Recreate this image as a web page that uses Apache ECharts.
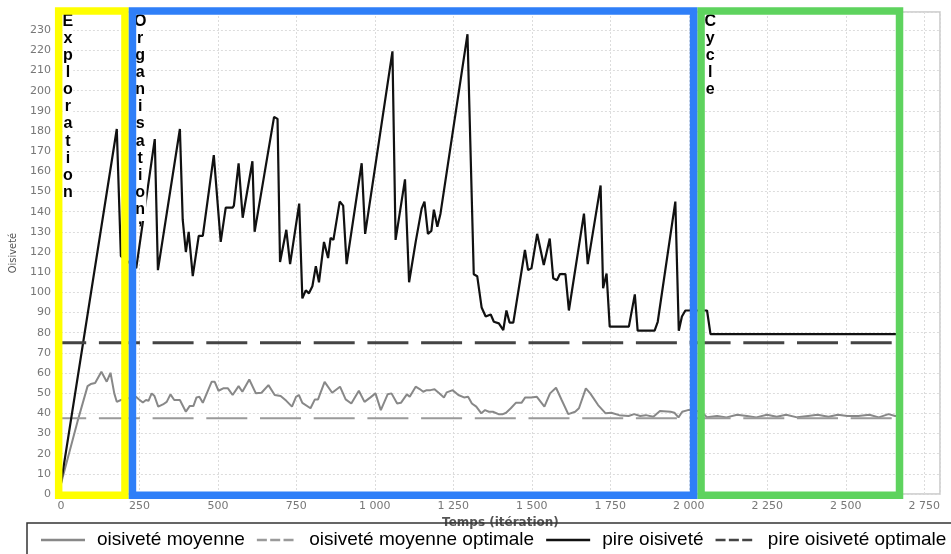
<!DOCTYPE html>
<html>
<head>
<meta charset="utf-8">
<script src="https://cdn.jsdelivr.net/npm/echarts@6/dist/echarts.min.js"></script>
<style>html,body{margin:0;padding:0;background:#fff}#c{width:951px;height:554px}</style>
</head>
<body>
<div id="c"></div>
<script>
// ---- data ----
const seriesNames = ['oisiveté moyenne', 'oisiveté moyenne optimale', 'pire oisiveté', 'pire oisiveté optimale'];
const xTicks = [0, 250, 500, 750, 1000, 1250, 1500, 1750, 2000, 2250, 2500, 2750];

const worstIter = [0,178,191,240,299,309,379,388,398,407,420,439,452,487,509,525,547,551,566,579,610,617,679,690,698,718,730,759,769,780,790,801,812,822,838,851,859,868,888,899,910,958,969,1056,1066,1096,1109,1130,1149,1158,1169,1180,1188,1199,1209,1295,1315,1326,1340,1353,1369,1379,1395,1409,1419,1429,1441,1478,1488,1499,1517,1538,1557,1568,1580,1589,1607,1618,1666,1678,1719,1727,1738,1748,1809,1828,1837,1891,1901,1957,1968,1978,1989,2058,2069,2680];
const worstVal  = [5,181,118,112,176,111,181,136,120,130,108,128,128,168,125,142,142,143,164,137,165,130,187,186,115,131,114,144,97,101,99.5,103,113,105,125,117,127,126,145,143,114,164,129,219.5,126,156,105,125,141.5,145,129,130.5,141,132.5,139,228,109,108,92.5,88,89,85.4,84.6,81.3,91,85,85,121,111,112,129,113.5,126.7,107,106,109,109,91,139,114,153,102,109.3,83,83,99,81,81,85.4,145,81,88,91,91,79.3,79.3];

const meanIter = [0,53,85,95,109,129,146,158,170,178,191,215,239,249,261,271,279,289,298,310,325,337,349,361,379,398,410,422,432,441,452,480,490,502,517,532,547,566,578,600,621,639,661,681,700,718,736,749,758,769,795,809,819,840,864,889,907,925,949,967,986,1002,1019,1041,1053,1071,1083,1102,1111,1130,1144,1154,1165,1177,1190,1205,1220,1229,1248,1266,1284,1297,1309,1323,1339,1351,1363,1376,1394,1406,1418,1433,1449,1467,1479,1498,1516,1540,1558,1577,1595,1616,1638,1650,1672,1686,1711,1735,1753,1778,1808,1826,1845,1863,1887,1908,1942,1954,1967,1979,1997,2020,2048,2058,2090,2120,2154,2185,2215,2249,2280,2310,2345,2380,2410,2445,2475,2505,2540,2575,2605,2636,2657,2680];
const meanVal  = [5,36,53.5,54.5,55,60.6,55.7,60.1,49.9,45.7,46.6,47.5,48.2,46.9,45.4,46.6,46.2,49.9,48.6,43.3,44.4,45.7,49.4,46.6,46.6,40.8,43.6,43.6,47.9,48.2,45.2,55.6,55.6,51.2,52.4,52.4,49.1,53.5,50.7,56.8,49.9,50.2,54,49.1,48.6,46.2,43.3,48.2,49.1,45.2,42.5,46.9,46.9,55.6,50.2,53.2,46.9,44.9,51.2,45.7,47.9,49.9,41.6,49.5,49.9,44.9,45.2,49.4,48.2,53.2,51.9,50.7,51.5,51.5,51.9,49.9,47.9,50.4,51.5,49.1,47.9,48.2,44.9,43.3,40,41.6,40.8,40.8,39.6,39.5,40.3,42.5,45.2,45.2,47.9,47.9,48.2,43.3,49.9,52.7,46.6,39.6,40.8,42.5,52.4,49.9,44.1,40,40.3,39.1,38.7,39.6,38.7,39.1,38.3,41.1,40.8,40.3,38,40.8,41.6,41.6,39.6,38,38.7,38,39.3,38.7,38,39.3,38.3,39.3,38,38.7,39.3,38.3,39.3,38.7,38.7,39.3,38,39.6,38.7,38.7];

const optimalMean = 37.5;
const optimalWorst = 75;
const iterStart = 0;
const iterEnd = 2680;

// phase annotations (iteration boundaries, value range of the frames)
const phaseNames = ['Exploration', 'Organisation', 'Cycle'];
const phaseBounds = [-19, 216, 2027, 2683];
const phaseValRange = [-2.5, 241.3];

// ---- chart ----
const pair = (xs, ys) => xs.map((x, i) => [x, ys[i]]);
const flat = v => [[iterStart, v], [iterEnd, v]];
const fmt = v => v >= 1000 ? Math.floor(v / 1000) + ' ' + String(v % 1000).padStart(3, '0') : String(v);

const colors = ['#888', '#9a9a9a', '#111', '#444'];
const solidIcon = 'rect';
const dashIcon = 'path://M0,0h12v3h-12zM16,0h12v3h-12zM32,0h12v3h-12z';

const chart = echarts.init(document.getElementById('c'), null, {renderer: 'canvas'});
const dash = [41, 12.7];
const option = {
  animation: false,
  backgroundColor: '#fff',
  grid: {left: 60, right: 11, top: 12, bottom: 60, show: true, borderColor: '#c8c8c8', borderWidth: 1.5},
  xAxis: {
    type: 'value', min: 0, max: 2800, interval: 250,
    name: 'Temps (itération)', nameLocation: 'middle', nameGap: 19,
    nameTextStyle: {fontFamily: 'DejaVu Sans', fontWeight: 'bold', fontSize: 12, color: '#555'},
    axisLine: {show: false}, axisTick: {show: false},
    axisLabel: {showMaxLabel: false, color: '#777', fontFamily: 'DejaVu Sans', fontSize: 11, margin: 7,
      formatter: v => xTicks.includes(v) ? fmt(v) : ''},
    splitLine: {show: true, lineStyle: {color: '#dcdcdc', type: [2, 2], width: 1}}
  },
  yAxis: {
    type: 'value', min: 0, max: 239, interval: 10,
    name: 'Oisiveté', nameLocation: 'middle', nameGap: 40,
    nameTextStyle: {fontFamily: 'DejaVu Sans Condensed, DejaVu Sans', fontSize: 11, color: '#555'},
    axisLine: {show: false}, axisTick: {show: false},
    axisLabel: {showMaxLabel: false, color: '#777', fontFamily: 'DejaVu Sans', fontSize: 11, margin: 10},
    splitLine: {show: true, lineStyle: {color: '#dcdcdc', type: [2, 2], width: 1}}
  },
  legend: {
    left: 27, top: 523, width: 1000,
    padding: [6, 12, 6, 14],
    borderColor: '#333', borderWidth: 1.5,
    itemWidth: 44, itemHeight: 2.5, itemGap: 12,
    textStyle: {fontFamily: 'Liberation Sans, Arial', fontSize: 19, color: '#000', padding: [0, 0, 0, 7], lineHeight: 22},
    data: seriesNames.map((n, i) => ({name: n, icon: (i % 2) ? dashIcon : solidIcon, itemStyle: {color: colors[i]}}))
  },
  series: [
    {name: seriesNames[0], type: 'line', data: pair(meanIter, meanVal), symbol: 'none', z: 2,
     lineStyle: {color: colors[0], width: 2}, itemStyle: {color: colors[0]}},
    {name: seriesNames[1], type: 'line', data: flat(optimalMean), symbol: 'none', z: 2,
     lineStyle: {color: colors[1], width: 2, type: dash, dashOffset: 15.7}, itemStyle: {color: colors[1]}},
    {name: seriesNames[2], type: 'line', data: pair(worstIter, worstVal), symbol: 'none', z: 3,
     lineStyle: {color: colors[2], width: 2.2}, itemStyle: {color: colors[2]}},
    {name: seriesNames[3], type: 'line', data: flat(optimalWorst), symbol: 'none', z: 3,
     lineStyle: {color: colors[3], width: 3, type: dash, dashOffset: 15.7}, itemStyle: {color: colors[3]}}
  ]
};
chart.setOption(option);

// frames + vertical labels, positioned through the axes
const phaseColors = ['#ffff00', '#2f7ff8', '#5ed35e'];
const lw = 7.5;
const graphics = [];
[0, 2, 1].forEach(i => {
  const a = chart.convertToPixel({gridIndex: 0}, [phaseBounds[i], phaseValRange[1]]);
  const b = chart.convertToPixel({gridIndex: 0}, [phaseBounds[i + 1], phaseValRange[0]]);
  graphics.push({
    type: 'rect', z: 20,
    shape: {x: a[0] + lw / 2, y: a[1] + lw / 2, width: b[0] - a[0] - lw, height: b[1] - a[1] - lw},
    style: {fill: 'none', stroke: phaseColors[i], lineWidth: lw}
  });
});
phaseNames.forEach((name, i) => {
  const a = chart.convertToPixel({gridIndex: 0}, [phaseBounds[i], phaseValRange[1]]);
  let txt = name.split('').map(c => '{a|' + c + '}').join('\n');
  if (i === 1) txt += '\n{c|,}';
  graphics.push({
    type: 'text', z: 15,
    x: a[0] + 12 + (i === 1 ? -0.5 : 1), y: a[1] + 4.5,
    style: {
      text: txt, align: 'center', verticalAlign: 'top',
      backgroundColor: '#fff', padding: [1, 0, 0, 0],
      rich: {
        a: {fontFamily: 'Liberation Sans, Arial', fontWeight: 'bold', fontSize: 16, lineHeight: 17.1, fill: '#000'},
        c: {fontFamily: 'Liberation Sans, Arial', fontWeight: 'bold', fontSize: 16, lineHeight: 3, fill: '#000'}
      }
    }
  });
});
chart.setOption({graphic: graphics});
</script>
</body>
</html>
